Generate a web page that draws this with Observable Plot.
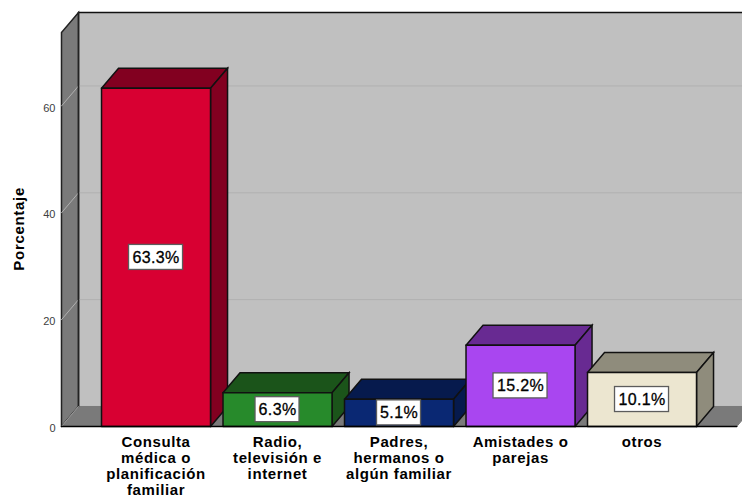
<!DOCTYPE html>
<html>
<head>
<meta charset="utf-8">
<script src="https://cdn.jsdelivr.net/npm/d3@7"></script>
<script src="https://cdn.jsdelivr.net/npm/@observablehq/plot@0.6"></script>
<style>
html,body{margin:0;padding:0;background:#fff;overflow:hidden}
svg{display:block}
.catAxis text{letter-spacing:.6px}
.yTitle text{letter-spacing:.7px}
.valueText text{letter-spacing:.35px}
</style>
</head>
<body>
<div id="chart"></div>
<script>
const categories = ["Consulta\nmédica o\nplanificación\nfamiliar","Radio,\ntelevisión e\ninternet","Padres,\nhermanos o\nalgún familiar","Amistades o\nparejas","otros"];
const values = [63.3, 6.3, 5.1, 15.2, 10.1];
const valueLabels = ["63.3%","6.3%","5.1%","15.2%","10.1%"];
const frontColors = ["#d80032","#278a2b","#0a2873","#a946f0","#ece6d0"];
const darkColors = ["#820020","#1b541a","#061a4d","#682a92","#8f8c7c"];
const yTicks = [0,20,40,60];
const gridValues = [20,40,60];

// scale set-up: one x unit is one category step
const xMin = -0.778, xMax = 4.827, yMax = 77.5;
const halfBar = 0.4486, depthX = 0.14, depthY = 3.745;
const wallTop = yMax - depthY;
const floorEnd = 4.78;
const poly = (pts, fill, stroke, strokeWidth) =>
  Plot.line([...pts, pts[0]].map(([x,y]) => ({x,y})), {x:"x", y:"y", fill, stroke, strokeWidth, strokeLinejoin:"miter", strokeMiterlimit:4, curve:"linear"});

const marks = [];
// back wall
marks.push(Plot.line([{x:xMin+depthX,y:depthY},{x:xMin+depthX,y:yMax},{x:xMax+1,y:yMax},{x:xMax+1,y:depthY},{x:xMin+depthX,y:depthY}],{x:"x",y:"y",fill:"#c0c0c0",stroke:"none"}));
// side wall
marks.push(poly([[xMin,0],[xMin+depthX,depthY],[xMin+depthX,yMax],[xMin,wallTop]],"#7a7a7a","#222",1.5));
// grid
for (const g of gridValues) {
  marks.push(Plot.line([{x:xMin,y:g},{x:xMin+depthX,y:g+depthY},{x:xMax,y:g+depthY}],{x:"x",y:"y",stroke:"#b0b0b0",strokeWidth:1}));
}
// top line of wall
marks.push(Plot.line([{x:xMin+depthX,y:yMax},{x:xMax,y:yMax}],{x:"x",y:"y",stroke:"#111",strokeWidth:1.5}));
// floor
marks.push(poly([[xMin,0],[floorEnd,0],[floorEnd+depthX,depthY],[xMin+depthX,depthY]],"#7a7a7a","#7a7a7a",1));
marks.push(Plot.line([{x:xMin+depthX,y:depthY},{x:xMin+depthX,y:yMax}],{x:"x",y:"y",stroke:"#222",strokeWidth:1.5}));
marks.push(Plot.line([{x:xMin,y:0},{x:xMin+depthX,y:depthY}],{x:"x",y:"y",stroke:"#999",strokeWidth:1}));

// bars
values.forEach((v,i) => {
  const l=i-halfBar, r=i+halfBar;
  marks.push(poly([[l,v],[r,v],[r+depthX,v+depthY],[l+depthX,v+depthY]],darkColors[i],"#111",1.5));
  marks.push(poly([[r,0],[r+depthX,depthY],[r+depthX,v+depthY],[r,v]],darkColors[i],"#111",1.5));
  marks.push(poly([[l,0],[r,0],[r,v],[l,v]],frontColors[i],"#111",1.5));
});
// baseline
marks.push(Plot.line([{x:xMin,y:0},{x:floorEnd,y:0}],{x:"x",y:"y",stroke:"#000",strokeWidth:1.5}));

// value boxes
const boxes = values.map((v,i)=>({i,y:v/2,label:valueLabels[i]}));
marks.push(Plot.rect(boxes,{
  x1:d=>d.i-(d.label.length>4?27:22)/121.5,
  x2:d=>d.i+(d.label.length>4?27:22)/121.5,
  y1:d=>d.y-12.5/5.34,
  y2:d=>d.y+12.5/5.34,
  fill:"#fff",stroke:"#5c5c5c",strokeWidth:1.3
}));
marks.push(Plot.text(boxes,{x:"i",y:"y",text:"label",fontSize:16,fill:"#000",stroke:"#000",strokeWidth:0.3,className:"valueText"}));

// axes
marks.push(Plot.axisY({ticks:yTicks,tickSize:0,tickPadding:6,label:null,fontSize:11,color:"#404040",dy:2}));
marks.push(Plot.text(["Porcentaje"],{x:xMin,y:37,text:d=>d,rotate:-90,dx:-42,fontSize:15,fontWeight:"bold",fill:"#000",className:"yTitle"}));
marks.push(Plot.axisX({ticks:[0,1,2,3,4],tickFormat:i=>categories[i],tickSize:0,tickPadding:9,label:null,fontSize:15,fontWeight:"bold",lineHeight:1.07,color:"#000",className:"catAxis",lineWidth:20,textOverflow:null}));

const chart = Plot.plot({
  width:742,height:498,
  marginTop:12,marginRight:0,marginBottom:72,marginLeft:61,
  style:{fontFamily:"Liberation Sans, Arial, sans-serif",background:"#fff",color:"#000"},
  x:{type:"linear",domain:[xMin,xMax]},
  y:{type:"linear",domain:[0,yMax]},
  marks
});
document.getElementById("chart").append(chart);
</script>
</body>
</html>
